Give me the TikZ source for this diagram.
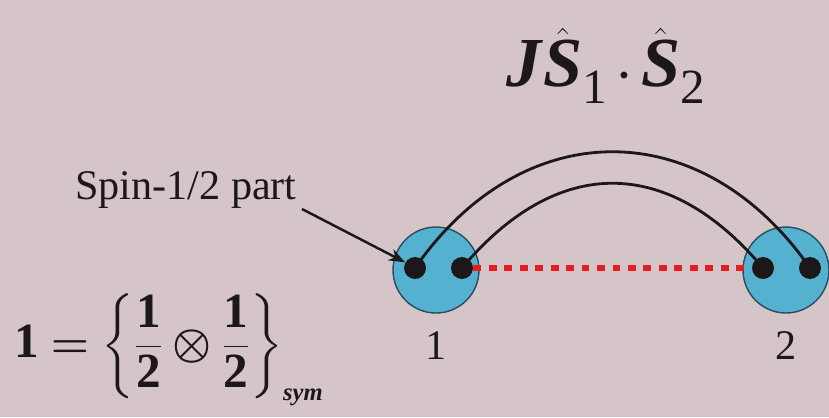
\documentclass[tikz,border=0pt]{standalone}
\usepackage{amsmath}
\usepackage{fontspec}
\setmainfont{Liberation Serif}
\usetikzlibrary{arrows.meta}

\definecolor{bgpink}{RGB}{213,196,200}
\definecolor{siteblue}{RGB}{84,178,208}
\definecolor{siteedge}{RGB}{40,78,96}
\definecolor{bondred}{RGB}{232,28,28}
\definecolor{ink}{RGB}{28,24,26}

\tikzset{
    site/.style={circle, draw=siteedge, line width=0.8pt, fill=siteblue, minimum size=1.72cm, inner sep=0pt},
    spin/.style={circle, fill=ink, minimum size=0.44cm, inner sep=0pt},
    label/.style={text=ink, font=\fontsize{24}{28}\selectfont},
    link/.style={draw=ink, line width=1.6pt},
}
\newcommand{\bsym}[1]{\textbf{\textit{#1}}}

\begin{document}
\begin{tikzpicture}[x=0.02cm, y=-0.02cm, >=Stealth]
    % background, fixes the size of the page
    \fill[bgpink] (0,0) rectangle (829,417);
    \useasboundingbox (0,0) rectangle (829,417);

    % Hamiltonian
    \node[label, font=\fontsize{40}{44}\selectfont] (ham) at (606,66)
        {\bsym{J}$\hat{\text{\bsym{S}}}_{\text{1}}\boldsymbol{\cdot}\hat{\text{\bsym{S}}}_{\text{2}}$};

    % Site 1 and Site 2
    \node[site] (site1) at (436,270) {};
    \node[site] (site2) at (786,270) {};
    \node[spin] (a1) at (415,268) {};
    \node[spin] (b1) at (462,268) {};
    \node[spin] (a2) at (763,268) {};
    \node[spin] (b2) at (810,268) {};
    \node[label] (n1) at (436,346) {1};
    \node[label] (n2) at (786,346) {2};

    % bond between the sites
    \draw[bondred, line width=3.4pt, dash pattern=on 4.5pt off 4.3pt] (b1.east) -- (a2.west);

    % the two spin-1/2 lines
    \draw[link] (a1.center) .. controls (523,113) and (702,113) .. (b2.center);
    \draw[link] (b1.center) .. controls (557,155) and (668,155) .. (a2.center);

    % Spin-1/2 label and arrow
    \node[label] (spinlbl) at (186,190) {Spin-1/2 part};
    \coordinate (tail) at (302,209);
    \draw[link, ->, line width=1.4pt] (tail) -- (a1.150);

    % spin 1 as product of two spin-1/2
    \node[label, font=\fontsize{28}{32}\selectfont, anchor=west] (prod) at (8,350)
        {$\textbf{1}\boldsymbol{=}\left\{\dfrac{\textbf{1}}{\textbf{2}}\boldsymbol{\otimes}\dfrac{\textbf{1}}{\textbf{2}}\right\}_{\scriptscriptstyle\text{\bsym{sym}}}$};
\end{tikzpicture}
\end{document}
